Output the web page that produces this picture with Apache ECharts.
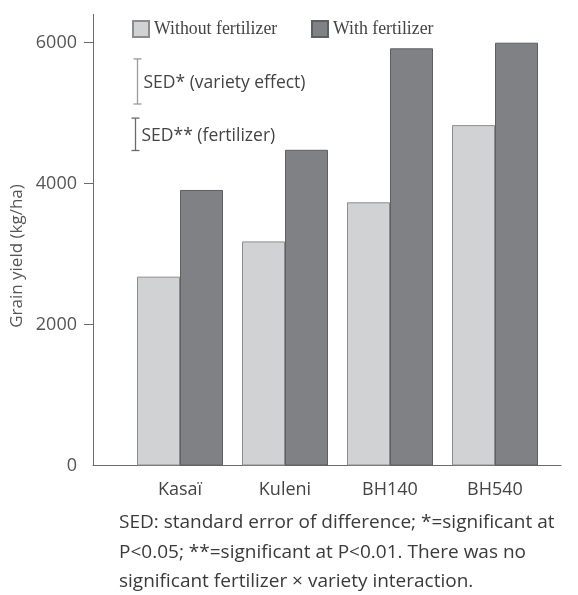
<!DOCTYPE html>
<html>
<head>
<meta charset="utf-8">
<script src="https://cdn.jsdelivr.net/npm/echarts@6/dist/echarts.min.js"></script>
<style>
  html, body { margin: 0; padding: 0; background: #fff; }
  #chart { width: 578px; height: 595px; }
</style>
</head>
<body>
<div id="chart"></div>
<script>
// Grain yield of four maize varieties with and without fertilizer
const varieties = ['Kasaï', 'Kuleni', 'BH140', 'BH540'];
const withoutFertilizer = [2680, 3180, 3735, 4830];
const withFertilizer = [3910, 4480, 5920, 6000];

// Standard errors of difference, drawn as bars centred on a reference level
const sedLabels = ['SED* (variety effect)', 'SED** (fertilizer)'];
const sedValues = [640, 460];
const sedCentres = [5450, 4700];

const yTicks = [0, 2000, 4000, 6000];
const yTitle = 'Grain yield (kg/ha)';

const footnote = [
  'SED: standard error of difference; *=significant at',
  'P<0.05; **=significant at P<0.01. There was no',
  'significant fertilizer \u00d7 variety interaction.'
];

const sansFont = '"Open Sans", "DejaVu Sans", sans-serif';
const serifFont = '"Liberation Serif", "DejaVu Serif", serif';

const chart = echarts.init(document.getElementById('chart'), null, { renderer: 'canvas' });

const gridTop = 14.5, gridBottom = 129.5;

chart.setOption({
  animation: false,
  backgroundColor: '#ffffff',
  grid: [
    { left: 93, right: 17, top: gridTop, bottom: gridBottom },
    { left: 127.5, width: 420, top: gridTop, bottom: gridBottom }
  ],
  legend: [
    {
      data: ['Without fertilizer'], left: 127, top: 15,
      icon: 'rect', itemWidth: 16, itemHeight: 16, itemGap: 5,
      textStyle: { fontFamily: serifFont, fontSize: 17.8, color: '#444' }
    },
    {
      data: ['With fertilizer'], left: 306, top: 15,
      icon: 'rect', itemWidth: 16, itemHeight: 16,
      textStyle: { fontFamily: serifFont, fontSize: 17.8, color: '#444' }
    }
  ],
  xAxis: [
    {
      gridIndex: 0, type: 'value', min: 0, max: 1,
      axisLine: { show: true, lineStyle: { color: '#6b6b6b', width: 1 } },
      axisTick: { show: false }, axisLabel: { show: false }, splitLine: { show: false }
    },
    {
      gridIndex: 1, type: 'category', data: varieties,
      axisLine: { show: false }, axisTick: { show: false }, splitLine: { show: false },
      axisLabel: { margin: 15, fontFamily: sansFont, fontSize: 18, color: '#444' }
    }
  ],
  yAxis: [
    {
      gridIndex: 0, type: 'value', min: 0, max: 6400,
      axisLine: { show: true, lineStyle: { color: '#6b6b6b', width: 1 } },
      axisTick: { show: true, length: 9, customValues: [2000, 4000, 6000], lineStyle: { color: '#6b6b6b' } },
      axisLabel: {
        customValues: yTicks, margin: 16, fontFamily: sansFont, fontSize: 18, color: '#555',
        formatter: v => String(v)
      },
      splitLine: { show: false }
    },
    {
      gridIndex: 1, type: 'value', min: 0, max: 6400, show: false, splitLine: { show: false }
    }
  ],
  series: [
    {
      name: 'Without fertilizer', type: 'bar', xAxisIndex: 1, yAxisIndex: 1,
      data: withoutFertilizer, barWidth: 43, barGap: '0%',
      itemStyle: { color: '#d1d2d4', borderColor: '#8c8c8e', borderWidth: 1 }
    },
    {
      name: 'With fertilizer', type: 'bar', xAxisIndex: 1, yAxisIndex: 1,
      data: withFertilizer, barWidth: 43, barGap: '0%',
      itemStyle: { color: '#808184', borderColor: '#5e5f62', borderWidth: 1 }
    },
    {
      type: 'custom', xAxisIndex: 0, yAxisIndex: 0, silent: true,
      data: sedValues.map((v, i) => [i, v, sedCentres[i]]),
      renderItem: function (params, api) {
        const i = api.value(0);
        const half = api.value(1) / 2;
        const centre = api.value(2);
        const xFrac = i === 0 ? 0.0947 : 0.0897;
        const top = api.coord([xFrac, centre + half]);
        const bot = api.coord([xFrac, centre - half]);
        const x = Math.round(top[0]) + 0.5;
        const cap = 4;
        const col = i === 0 ? '#9a9a9a' : '#6a6a6a';
        return {
          type: 'group',
          children: [
            { type: 'line', shape: { x1: x, y1: top[1], x2: x, y2: bot[1] }, style: { stroke: col, lineWidth: 1.3 } },
            { type: 'line', shape: { x1: x - cap, y1: top[1], x2: x + cap, y2: top[1] }, style: { stroke: col, lineWidth: 1.3 } },
            { type: 'line', shape: { x1: x - cap, y1: bot[1], x2: x + cap, y2: bot[1] }, style: { stroke: col, lineWidth: 1.3 } },
            {
              type: 'text', x: x + 6, y: (top[1] + bot[1]) / 2 + 2,
              style: {
                text: sedLabels[i], fill: '#444', font: '17.5px ' + sansFont,
                verticalAlign: 'middle', align: 'left'
              }
            }
          ]
        };
      }
    }
  ],
  graphic: [
    {
      type: 'text', x: 17, y: 256, rotation: Math.PI / 2,
      style: {
        text: yTitle, fill: '#555', font: '17px ' + sansFont,
        align: 'center', verticalAlign: 'middle'
      }
    },
    {
      type: 'text', left: 119, top: 508,
      style: {
        text: footnote.join('\n'), fill: '#3a3a3a',
        font: '19px ' + sansFont, lineHeight: 29.5
      }
    }
  ]
});
</script>
</body>
</html>
